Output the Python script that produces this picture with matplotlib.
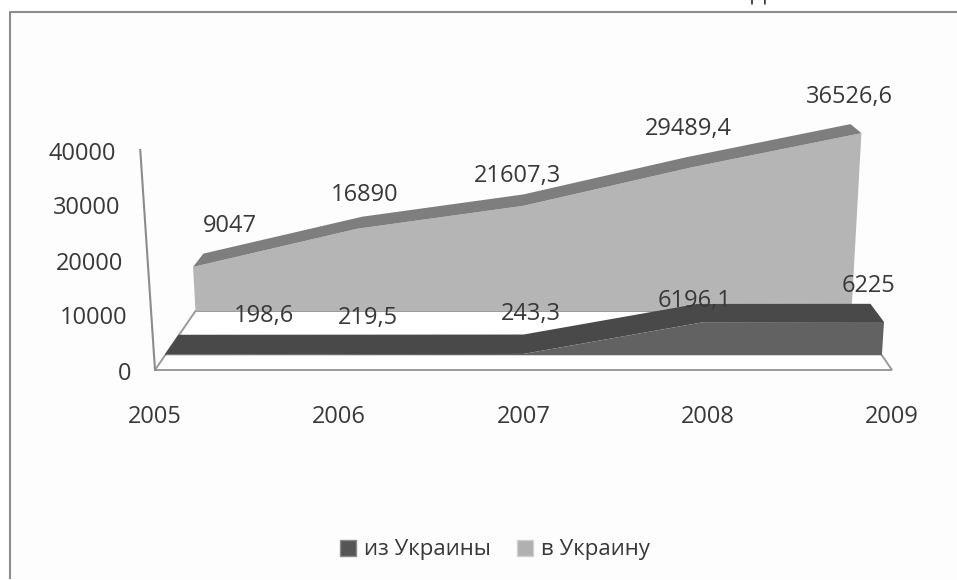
import matplotlib
matplotlib.use("Agg")
import matplotlib.pyplot as plt
import numpy as np
from matplotlib.patches import Patch, Polygon

plt.rcParams['font.family'] = ['Open Sans', 'DejaVu Sans']

years = ['2005', '2006', '2007', '2008', '2009']
out_of_ukraine = [198.6, 219.5, 243.3, 6196.1, 6225]
into_ukraine = [9047, 16890, 21607.3, 29489.4, 36526.6]
out_labels = ['198,6', '219,5', '243,3', '6196,1', '6225']
into_labels = ['9047', '16890', '21607,3', '29489,4', '36526,6']
y_ticks = [0, 10000, 20000, 30000, 40000]

TEXT = '#383838'
EDGE = '#9a9a9a'
FS = 17


# fake 3d: year index, value and depth (0 front of floor, 1 back) to pixels
def project(i, v, z):
    i, v = np.broadcast_arrays(np.asarray(i, dtype=float), np.asarray(v, dtype=float))
    half = 368.5 - 40.5 * z
    grow = 1 + v * (1e-6 - 1.7e-7 * z)
    x = 523.5 + half * grow * (i - 2) / 2
    y = 370 - 59 * z - v * (0.0055 - 0.00063 * z)
    return x, y


def ribbon(values, z_front, z_back):
    idx = np.arange(len(values))
    xf, yf = project(idx, values, z_front)
    xb, yb = project(idx, values, z_back)
    x0, y0 = project(idx, 0, z_front)
    face = np.column_stack([np.r_[xf, x0[-1], x0[0]], np.r_[yf, y0[-1], y0[0]]])
    top = np.column_stack([np.r_[xf, xb[::-1]], np.r_[yf, yb[::-1]]])
    return face, top


fig = plt.figure(figsize=(9.57, 5.8), dpi=100, facecolor='white')
ax = fig.add_axes([0, 0, 1, 1])
ax.set_xlim(0, 957)
ax.set_ylim(580, 0)
ax.axis('off')

# chart frame
ax.add_patch(Polygon([(10, 12), (957, 12), (957, 580), (10, 580)], closed=True,
                     facecolor='#fdfdfd', edgecolor='none', zorder=0))
ax.plot([10, 10, 957], [578, 12, 12], color='#8c8c8c', lw=1.5, zorder=1)

# feet of the cut off caption above the frame
ax.text(758.5, -1, 'Д', ha='center', va='baseline', fontsize=16, color=TEXT, zorder=1)

# floor and wall
fx0, fy0 = project([0, 4], 0, 0)
fx1, fy1 = project([0, 4], 0, 1)
ax.add_patch(Polygon([(fx0[0], fy0[0]), (fx0[1], fy0[1]), (fx1[1], fy1[1]), (fx1[0], fy1[0])],
                     closed=True, facecolor='white', edgecolor=EDGE, lw=1.4, zorder=1))
wx, wy = project([0, 0], [0, y_ticks[-1]], 0)
ax.plot(wx, wy, color='#8c8c8c', lw=1.5, zorder=1)

# back series, then front series
face, top = ribbon(into_ukraine, 1.0, 1.25)
ax.add_patch(Polygon(face, closed=True, facecolor='#b5b5b5', edgecolor='none', zorder=2))
ax.add_patch(Polygon(top, closed=True, facecolor='#7e7e7e', edgecolor='none', zorder=2))

face, top = ribbon(out_of_ukraine, 0.25, 0.58)
ax.add_patch(Polygon(top, closed=True, facecolor='#494949', edgecolor='none', zorder=3))
ax.add_patch(Polygon(face, closed=True, facecolor='#626262', edgecolor='none', zorder=3))

# axis labels
for t in y_ticks:
    x, y = project(0, t, 0)
    ax.text(x - 24, y + 3.5, str(t), ha='right', va='center', fontsize=FS, color=TEXT, zorder=5)
for i, name in enumerate(years):
    x, y = project(i, 0, 0)
    ax.text(x, y + 47, name, ha='center', va='center', fontsize=FS, color=TEXT, zorder=5)

# value labels, offset from the top of each point
into_dx = [27, 2, -6, 2, -1]
into_dy = [-28, -22, -18, -28, -27]
out_dx = [86, 17, 7, -2, -2]
out_dy = [-19, -17, -21, -3, -18]
for i in range(len(years)):
    x, y = project(i, into_ukraine[i], 1.25)
    ax.text(x + into_dx[i], y + into_dy[i], into_labels[i], ha='center', va='center',
            fontsize=FS, color=TEXT, zorder=6)
    x, y = project(i, out_of_ukraine[i], 0.58)
    ax.text(x + out_dx[i], y + out_dy[i], out_labels[i], ha='center', va='center',
            fontsize=FS, color=TEXT, zorder=6)

# legend
handles = [Patch(facecolor='#555555', edgecolor='#8a8a8a', label='из Украины'),
           Patch(facecolor='#b0b0b0', edgecolor='#d0d0d0', label='в Украину')]
ax.legend(handles=handles, ncol=2, loc='center', bbox_to_anchor=(495 / 957, 1 - 550 / 580),
          frameon=False, fontsize=16, handlelength=0.7, handleheight=0.7, handletextpad=0.35,
          columnspacing=1.2, labelcolor=TEXT)

fig.savefig('out.png', dpi=100)
